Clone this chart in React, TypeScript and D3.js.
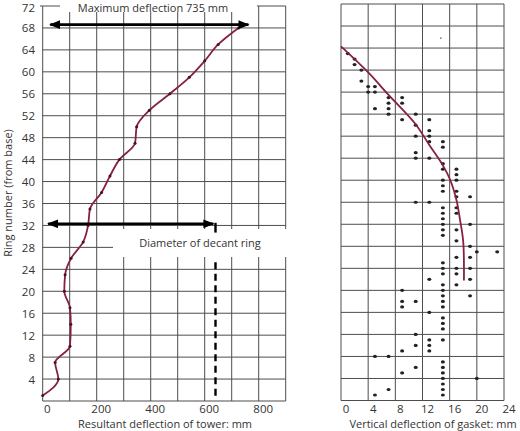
import React from 'react';
import * as d3 from 'd3';

// ring number (from base) ticks shared by both panels
const ringTicks = [4, 8, 12, 16, 20, 24, 28, 32, 36, 40, 44, 48, 52, 56, 60, 64, 68, 72];
const ringGrid = [0, 4, 8, 12, 16, 20, 24, 28, 32, 36, 40, 44, 48, 52, 56, 60, 64, 68, 72];

// left panel: resultant deflection of tower (mm)
const towerTicks = [0, 200, 400, 600, 800];
const towerGrid = [0, 100, 200, 300, 400, 500, 600, 700, 800, 900];
const towerRings = [68, 65, 62, 59, 56, 53, 50, 47, 44, 41, 38, 35, 32, 29, 26, 23, 20, 17, 14, 10, 7, 4, 1];
const towerDeflection = [725, 650, 600, 543, 471, 395, 348, 342, 284, 249, 218, 175, 168, 150, 105, 83, 80, 101, 104, 101, 46, 58, 0];
const maxArrow = { ring: 68.6, from: 28, to: 762 };
const decantArrow = { ring: 32.3, from: 20, to: 632 };
const decantDiameter = 640;

// right panel: vertical deflection of gasket (mm)
const gasketTicks = [0, 4, 8, 12, 16, 20, 24];
const gasketCurveRings = [64.3, 59.7, 55.5, 50.3, 46.4, 42.7, 40, 36.4, 33, 28.8, 21.8];
const gasketCurveMm = [0, 3.9, 7, 10.9, 13, 15, 16.1, 17, 17.5, 18, 18.1];
// [mm, ring]
const gasketReadings: [number, number][] = [
  [1, 63], [2, 62], [2, 61], [3, 60], [3, 58], [4, 57], [5, 57], [4, 56], [5, 56], [5, 53],
  [7, 55], [7, 54], [7, 53], [7, 52], [9, 55], [9, 54], [9, 51], [11, 52], [11, 50], [13, 51],
  [11, 48], [13, 49], [13, 48], [13, 47], [15, 47], [15, 46],
  [11, 45], [11, 44], [13, 44], [15, 43], [15, 42], [17, 42], [17, 41], [17, 40], [15, 40], [15, 39],
  [15, 38], [17, 38], [17, 37], [19, 37], [11, 36], [13, 36], [15, 35], [17, 35], [15, 34], [17, 34],
  [15, 33], [15, 32], [19, 32], [15, 31], [17, 31], [15, 30], [17, 29], [19, 28], [20, 27], [23, 27],
  [17, 26], [19, 26], [15, 25], [15, 24], [17, 24], [19, 24], [15, 23], [17, 23], [13, 22], [19, 22],
  [15, 21], [17, 21], [9, 20], [15, 20], [15, 19], [19, 19], [9, 18], [11, 18], [15, 18], [9, 17],
  [15, 17], [13, 16], [15, 15], [15, 14], [15, 13], [11, 12], [13, 11], [15, 11], [11, 10], [13, 10],
  [9, 9], [13, 9], [5, 8], [7, 8], [15, 7], [11, 6], [15, 6], [9, 5], [15, 5], [15, 4],
  [20, 4], [15, 3], [7, 2], [15, 2], [5, 1], [15, 1],
];
const strayReading: [number, number] = [14.7, 65.8];

const FONT = '"Open Sans", sans-serif';
const TEXT = '#333';
const GRID = '#4d4d4d';
const CURVE = '#862043';

export default function App() {
  const y = d3.scaleLinear().domain([0, 72]).range([401, 6]);
  const yR = d3.scaleLinear().domain([0, 72]).range([400.5, 4]);
  const xL = d3.scaleLinear().domain([0, 900]).range([42.7, 285.7]);
  const xR = d3.scaleLinear().domain([0, 24]).range([341, 504]);

  const towerLine = d3.line<number>()
    .x((_, i) => xL(towerDeflection[i]))
    .y((r) => y(r))
    .curve(d3.curveMonotoneY);

  const gasketLine = d3.line<number>()
    .x((_, i) => xR(gasketCurveMm[i]))
    .y((r) => yR(r))
    .curve(d3.curveCatmullRom);

  return (
    <svg width={520} height={431} style={{ position: 'fixed', left: 0, top: 0, background: '#fff' }}
      fontFamily={FONT}>
      <defs>
        <marker id="ah" viewBox="0 0 10 8" refX="9" refY="4" markerWidth="4.4" markerHeight="3.4"
          orient="auto-start-reverse" markerUnits="strokeWidth">
          <path d="M0,0 L10,4 L0,8 Z" fill="#000" />
        </marker>
      </defs>

      {/* left panel grid */}
      <g stroke={GRID} strokeWidth={1}>
        {ringGrid.map((r) => (
          <line key={'lh' + r} x1={xL(0)} x2={xL(900)} y1={y(r)} y2={y(r)} />
        ))}
        {towerGrid.map((v) => (
          <line key={'lv' + v} x1={xL(v)} x2={xL(v)} y1={y(72)} y2={y(0)} />
        ))}
        <line x1={40} x2={xL(0)} y1={y(72)} y2={y(72)} />
      </g>

      {/* right panel grid */}
      <g stroke={GRID} strokeWidth={1}>
        {ringGrid.map((r) => (
          <line key={'rh' + r} x1={xR(0)} x2={xR(24)} y1={yR(r)} y2={yR(r)} />
        ))}
        {gasketTicks.map((v) => (
          <line key={'rv' + v} x1={xR(v)} x2={xR(v)} y1={yR(72)} y2={yR(0)} />
        ))}
      </g>

      {/* white label boxes breaking the grid */}
      <rect x={60} y={0} width={197} height={12} fill="#fff" />
      <rect x={113} y={229} width={180} height={28} fill="#fff" />

      {/* tower deflection curve */}
      <path d={towerLine(towerRings) || ''} fill="none" stroke={CURVE} strokeWidth={1.8} />
      {towerRings.map((r, i) => (
        <circle key={'tm' + i} cx={xL(towerDeflection[i])} cy={y(r)} r={1.5} fill="#4a1020" />
      ))}

      {/* arrows and decant ring marker */}
      <line x1={xL(maxArrow.from)} x2={xL(maxArrow.to)} y1={y(maxArrow.ring)} y2={y(maxArrow.ring)}
        stroke="#000" strokeWidth={2.6} markerStart="url(#ah)" markerEnd="url(#ah)" />
      <line x1={xL(decantArrow.from)} x2={xL(decantArrow.to)} y1={y(decantArrow.ring)} y2={y(decantArrow.ring)}
        stroke="#000" strokeWidth={2.6} markerStart="url(#ah)" markerEnd="url(#ah)" />
      <line x1={xL(decantDiameter)} x2={xL(decantDiameter)} y1={y(decantArrow.ring) - 1} y2={y(30.7)}
        stroke="#000" strokeWidth={2.4} />
      <line x1={xL(decantDiameter)} x2={xL(decantDiameter)} y1={y(25.3)} y2={y(0.7)}
        stroke="#000" strokeWidth={2.4} strokeDasharray="7,4.5" />

      {/* gasket readings */}
      {gasketReadings.map(([mm, r], i) => (
        <ellipse key={'gd' + i} cx={xR(mm)} cy={yR(r)} rx={2} ry={1.6} fill="#222" />
      ))}
      <circle cx={xR(strayReading[0])} cy={yR(strayReading[1])} r={0.8} fill="#666" />
      <path d={gasketLine(gasketCurveRings) || ''} fill="none" stroke={CURVE} strokeWidth={1.8} />

      {/* texts */}
      <g fill={TEXT} fontSize={11}>
        {ringTicks.map((r) => (
          <text key={'yt' + r} x={35} y={Math.max(y(r), 7.5)} textAnchor="end" dominantBaseline="central" fontSize={11.5}>{r}</text>
        ))}
        {towerTicks.map((v) => (
          <text key={'xt' + v} x={xL(v) + 4.5} y={408} textAnchor="middle" dominantBaseline="central" fontSize={11.5}>{v}</text>
        ))}
        {gasketTicks.map((v) => (
          <text key={'gt' + v} x={xR(v) + 5} y={408} textAnchor="middle" dominantBaseline="central" fontSize={11.5}>{v}</text>
        ))}
        <text x={153} y={7} textAnchor="middle" dominantBaseline="central">Maximum deflection 735 mm</text>
        <text x={200} y={242.5} textAnchor="middle" dominantBaseline="central">Diameter of decant ring</text>
        <text x={165} y={423.5} textAnchor="middle" dominantBaseline="central">Resultant deflection of tower: mm</text>
        <text x={433} y={423.5} textAnchor="middle" dominantBaseline="central">Vertical deflection of gasket: mm</text>
        <text transform="translate(7.5,193) rotate(-90)" textAnchor="middle" dominantBaseline="central">Ring number (from base)</text>
      </g>
    </svg>
  );
}
